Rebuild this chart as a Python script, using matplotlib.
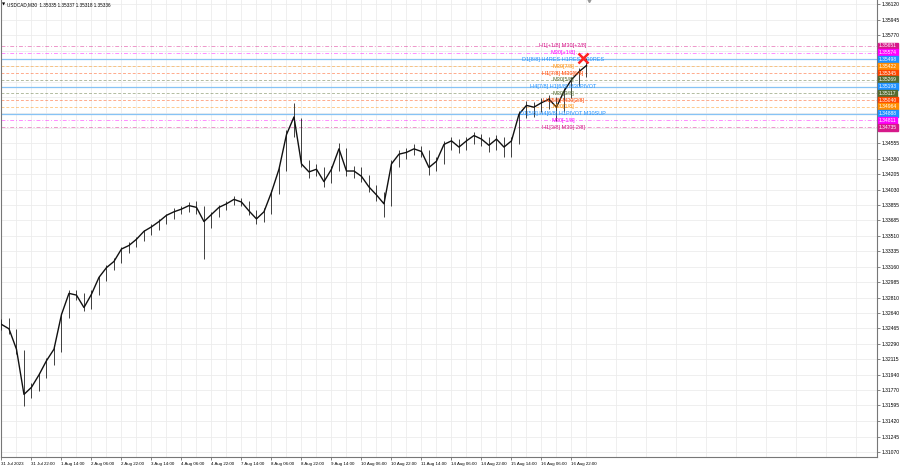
import numpy as np
import matplotlib
matplotlib.use("Agg")
import matplotlib.pyplot as plt
from matplotlib.transforms import blended_transform_factory

plt.rcParams['font.family'] = ['Liberation Sans', 'DejaVu Sans']

title = "USDCAD,M30  1.35335 1.35337 1.35318 1.35336"

# price, one point every 8 bars of M30
bar_step = 8
closes = [1.3251, 1.3246, 1.3223, 1.3172, 1.3180, 1.3194, 1.3210, 1.3223, 1.3262, 1.3286,
          1.3284, 1.3270, 1.3285, 1.3304, 1.3315, 1.3322, 1.3336, 1.3340, 1.3347, 1.3356,
          1.3361, 1.3367, 1.3374, 1.3378, 1.3381, 1.3385, 1.3383, 1.3367, 1.3375, 1.3383,
          1.3387, 1.3392, 1.3389, 1.3379, 1.3370, 1.3378, 1.3400, 1.3426, 1.3465, 1.3485,
          1.3432, 1.3423, 1.3426, 1.3412, 1.3426, 1.3449, 1.3424, 1.3424, 1.3418, 1.3406,
          1.3397, 1.3387, 1.3432, 1.3443, 1.3445, 1.3449, 1.3446, 1.3428, 1.3435, 1.3454,
          1.3458, 1.3451, 1.3458, 1.3464, 1.3460, 1.3453, 1.3460, 1.3451, 1.3458, 1.3488,
          1.3498, 1.3496, 1.3501, 1.3505, 1.3496, 1.3514, 1.3527, 1.3536, 1.3543]
highs = [1.3257, 1.3258, 1.3246, 1.3222, 1.3185, 1.3196, 1.3213, 1.3228, 1.3264, 1.3290,
         1.3290, 1.3286, 1.3290, 1.3306, 1.3318, 1.3326, 1.3338, 1.3344, 1.3350, 1.3358,
         1.3364, 1.3370, 1.3376, 1.3382, 1.3384, 1.3389, 1.3390, 1.3384, 1.3378, 1.3386,
         1.3390, 1.3396, 1.3394, 1.3390, 1.3380, 1.3382, 1.3403, 1.3430, 1.3470, 1.3501,
         1.3484, 1.3436, 1.3432, 1.3428, 1.3430, 1.3456, 1.3450, 1.3430, 1.3428, 1.3420,
         1.3408, 1.3400, 1.3436, 1.3448, 1.3450, 1.3454, 1.3452, 1.3448, 1.3440, 1.3458,
         1.3462, 1.3460, 1.3462, 1.3468, 1.3466, 1.3462, 1.3465, 1.3462, 1.3462, 1.3492,
         1.3503, 1.3502, 1.3506, 1.3510, 1.3508, 1.3518, 1.3530, 1.3540, 1.3552]
lows = [1.3245, 1.3240, 1.3218, 1.3159, 1.3168, 1.3176, 1.3190, 1.3205, 1.3220, 1.3258,
        1.3278, 1.3266, 1.3268, 1.3284, 1.3300, 1.3312, 1.3320, 1.3332, 1.3338, 1.3345,
        1.3352, 1.3358, 1.3364, 1.3370, 1.3376, 1.3378, 1.3376, 1.3325, 1.3360, 1.3372,
        1.3380, 1.3386, 1.3384, 1.3374, 1.3364, 1.3366, 1.3376, 1.3398, 1.3424, 1.3462,
        1.3428, 1.3416, 1.3418, 1.3406, 1.3410, 1.3424, 1.3418, 1.3416, 1.3412, 1.3400,
        1.3390, 1.3372, 1.3384, 1.3428, 1.3438, 1.3442, 1.3440, 1.3420, 1.3424, 1.3432,
        1.3448, 1.3444, 1.3448, 1.3454, 1.3452, 1.3446, 1.3448, 1.3440, 1.3440, 1.3455,
        1.3484, 1.3485, 1.3490, 1.3494, 1.3480, 1.3490, 1.3506, 1.3520, 1.3530]

# one time label every 32 bars
time_labels = ["31 Jul 2023", "31 Jul 22:00", "1 Aug 14:00", "2 Aug 06:00", "2 Aug 22:00",
               "3 Aug 14:00", "4 Aug 06:00", "4 Aug 22:00", "7 Aug 14:00", "8 Aug 06:00",
               "8 Aug 22:00", "9 Aug 14:00", "10 Aug 06:00", "10 Aug 22:00", "11 Aug 14:00",
               "14 Aug 06:00", "14 Aug 22:00", "15 Aug 14:00", "16 Aug 06:00", "16 Aug 22:00"]

price_labels = ["1.36120", "1.35945", "1.35770",
                "1.34555", "1.34380", "1.34205", "1.34030", "1.33855", "1.33685", "1.33510",
                "1.33335", "1.33160", "1.32985", "1.32810", "1.32640", "1.32465", "1.32290",
                "1.32115", "1.31940", "1.31770", "1.31595", "1.31420", "1.31245", "1.31070"]
hidden_ticks = [1.35595, 1.35420, 1.35245, 1.35070, 1.34895, 1.34720]

level_prices = [1.35651, 1.35574, 1.35498, 1.35422, 1.35345, 1.35269, 1.35193,
                1.35117, 1.35040, 1.34964, 1.34888, 1.34811, 1.34735]
level_names = ["H1[+1/8] M30[+2/8]", "M30[+1/8]", "D1[8/8] H4RES H1RES M30RES", "M30[7/8]",
               "H1[7/8] M30[6/8]", "M30[5/8]", "H4[7/8] H1[6/8] M30PIVOT", "M30[3/8]",
               "H1[5/8] M30[2/8]", "M30[1/8]", "D1[5/8] H4[6/8] H1PIVOT M30SUP", "M30[-1/8]",
               "H1[3/8] M30[-2/8]"]
level_colors = ["#d6198a", "#ff00ff", "#1e90ff", "#ff8c00", "#ff4500", "#556b2f", "#1e90ff",
                "#556b2f", "#ff4500", "#ff8c00", "#1e90ff", "#ff00ff", "#d6198a"]

cross_bar = 620
cross_price = 1.35518

fig = plt.figure(figsize=(9, 4.68), dpi=100)
ax = fig.add_axes([1 / 900, 11 / 468, 876 / 900, 457 / 468])

x = np.arange(len(closes)) * bar_step
ax.vlines(x, lows, highs, color="#222222", lw=0.6, zorder=3)
ax.plot(x, closes, color="#111111", lw=1.0, zorder=3)

# levels
for p, name, c in zip(level_prices, level_names, level_colors):
    if c == "#1e90ff":
        ax.axhline(p, color="#87c3f5", lw=0.9, zorder=1)
    elif c in ("#d6198a", "#ff00ff"):
        ax.axhline(p, color=c, lw=0.7, alpha=0.45, dashes=(4, 2, 1, 2), zorder=1)
    else:
        ax.axhline(p, color=c, lw=0.7, alpha=0.45, dashes=(3, 2), zorder=1)
    ax.text(599, p, name, color=c, fontsize=4, ha="center", va="center", zorder=4)

ax.plot(cross_bar, cross_price, marker="x", color="#ff2222", ms=7, mew=1.8, zorder=5)

ax.set_xlim(-0.5, 933.9)
ax.set_ylim(1.31014, 1.36169)

# axes
xt = np.arange(len(time_labels)) * 32
ax.set_xticks(xt)
ax.set_xticklabels(time_labels)
for t in ax.get_xticklabels():
    t.set_ha("left")
ax.set_xticks(np.arange(16, 930, 32), minor=True)
yt = [float(s) for s in price_labels]
ax.set_yticks(yt + hidden_ticks)
ax.set_yticklabels(price_labels + [""] * len(hidden_ticks))
ax.yaxis.tick_right()
ax.tick_params(axis="both", labelsize=3.6, length=2, width=0.5, color="#555555", pad=1.5)
ax.tick_params(axis="x", labelsize=3.2)
ax.tick_params(axis="x", which="minor", length=0)
ax.grid(True, which="both", color="#ececec", lw=0.6, zorder=0)
ax.set_axisbelow(True)
ax.spines["top"].set_visible(False)
for side in ["left", "right", "bottom"]:
    ax.spines[side].set_color("#777777")
    ax.spines[side].set_linewidth(0.8)

trans = blended_transform_factory(ax.transAxes, ax.transData)
for p, c in zip(level_prices, level_colors):
    ax.text(1.002, p, f"{p:.5f}", transform=trans, color="white", fontsize=3.6,
            ha="left", va="center", clip_on=False, zorder=6,
            bbox=dict(boxstyle="square,pad=0.18", facecolor=c, edgecolor=c))

ax.plot(627, 1.36169, marker="v", color="#999999", ms=3, clip_on=False, zorder=6)

fig.text(1.5 / 900, 1 - 4.5 / 468, "\u25bc", fontsize=3, va="center", family=["DejaVu Sans"])
fig.text(7 / 900, 1 - 4.5 / 468, title, fontsize=3.3, va="center")

fig.savefig("out.png", dpi=100, facecolor="white")
